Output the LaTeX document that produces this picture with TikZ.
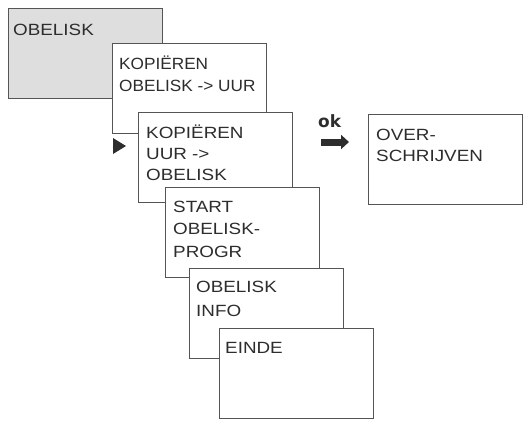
\documentclass[tikz,border=0pt]{standalone}
\usepackage{fontspec}
\setmainfont{Liberation Sans}[FakeStretch=1.16]
\newfontfamily\narrowfont{Liberation Sans}[FakeStretch=1.06]
\newfontfamily\okfont{DejaVu Sans}
\usetikzlibrary{arrows.meta}
\definecolor{linegray}{RGB}{85,85,85}
\definecolor{boxgray}{RGB}{222,222,222}
\definecolor{textgray}{RGB}{45,45,45}
\tikzstyle{screen} = [rectangle, anchor=north west,
                      minimum width=154bp, minimum height=90bp,
                      draw=linegray, fill=white, line width=1.4bp, inner sep=0pt]
\tikzstyle{screentext} = [anchor=base west, inner sep=0pt, text=textgray,
                          font=\fontsize{16.3}{22.5}\selectfont]
\newcommand{\screenlines}[1]{\parbox[t]{150bp}{\raggedright #1}}

\begin{document}
\begin{tikzpicture}[x=1bp, y=-1bp]
        \useasboundingbox (0,0) rectangle (529,423);

        \node (Obelisk) [screen, fill=boxgray] at (8,8) {};
        \node (ObeliskText) [screentext] at ([shift={(5,27)}]Obelisk.north west) {\screenlines{OBELISK}};

        \node (CopyToClock) [screen] at (112,43) {};
        \node (CopyToClockText) [screentext, font=\narrowfont\fontsize{16.3}{23}\selectfont] at ([shift={(7,26)}]CopyToClock.north west) {\screenlines{KOPIËREN\\OBELISK -> UUR}};

        \node (CopyToObelisk) [screen] at (138,112) {};
        \node (CopyToObeliskText) [screentext, font=\fontsize{16.3}{21.5}\selectfont] at ([shift={(8,26)}]CopyToObelisk.north west) {\screenlines{KOPIËREN\\UUR ->\\OBELISK}};

        \node (StartProg) [screen] at (165,187) {};
        \node (StartProgText) [screentext, font=\fontsize{16.3}{23}\selectfont] at ([shift={(8,25)}]StartProg.north west) {\screenlines{START\\OBELISK-\\PROGR}};

        \node (Info) [screen] at (189,268) {};
        \node (InfoText) [screentext, font=\fontsize{16.3}{25}\selectfont] at ([shift={(7,24)}]Info.north west) {\screenlines{OBELISK\\INFO}};

        \node (End) [screen] at (219,328) {};
        \node (EndText) [screentext] at ([shift={(6,25)}]End.north west) {\screenlines{EINDE}};

        \node (Overwrite) [screen] at (368,114) {};
        \node (OverwriteText) [screentext, font=\fontsize{16.3}{22}\selectfont] at ([shift={(8,26)}]Overwrite.north west) {\screenlines{OVER-\\SCHRIJVEN}};

        \fill [textgray] (113,138) -- (126,146) -- (113,154) -- cycle; %cursor

        \node (ok) [anchor=base west, inner sep=0pt, text=textgray,
                    font=\okfont\bfseries\fontsize{17}{17}\selectfont] at (318,127) {ok};
        \coordinate (okFrom) at (321,142);
        \coordinate (okTo) at (349,142);
        \draw [textgray, line width=7bp, -{Triangle[length=8bp,width=14bp]}] (okFrom) -- (okTo); %ok arrow

\end{tikzpicture}
\end{document}
